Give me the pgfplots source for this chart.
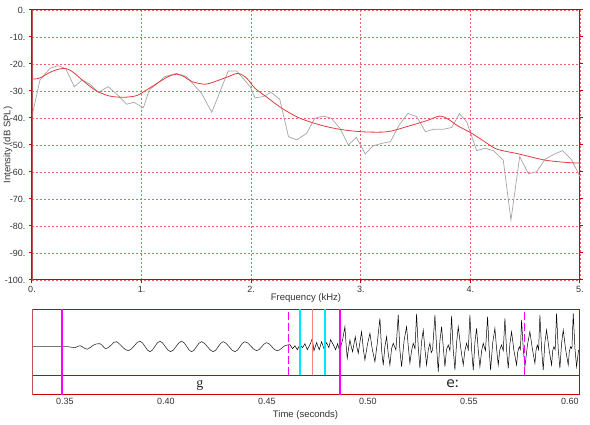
\documentclass[border=0pt]{standalone}
\usepackage{fontspec}
\setmainfont{Liberation Sans}
\newfontfamily\serifg{Liberation Serif}
\newfontfamily\dejavu{DejaVu Sans}
\usepackage{pgfplots}
\pgfplotsset{compat=1.18}
\definecolor{framered}{RGB}{204,0,0}
\definecolor{leftred}{RGB}{196,80,80}
\definecolor{gridred}{RGB}{238,100,100}
\definecolor{specgray}{RGB}{165,165,165}
\definecolor{smoothred}{RGB}{225,60,60}
\definecolor{mag}{RGB}{255,0,255}
\definecolor{cyn}{RGB}{0,230,255}
\definecolor{salmon}{RGB}{255,130,120}
\begin{document}
\begin{tikzpicture}[x=1pt,y=1pt]
\useasboundingbox (0,0) rectangle (590,425);
\begin{axis}[
  at={(32pt,145pt)}, anchor=south west,
  scale only axis, width=548pt, height=270pt,
  xmin=0, xmax=5, ymin=-100, ymax=0,
  xtick={0,1,2,3,4,5}, xticklabels={0.,1.,2.,3.,4.,5.},
  ytick={-100,-90,-80,-70,-60,-50,-40,-30,-20,-10,0},
  yticklabels={-100.,-90.,-80.,-70.,-60.,-50.,-40.,-30.,-20.,-10.,0.},
  grid=major,
  major grid style={gridred, dash pattern=on 2pt off 2pt, line width=0.7pt},
  axis line style={framered, line width=1pt},
  tick style={framered, line width=1pt},
  tick align=outside, major tick length=3pt,
  xtick pos=left, ytick pos=both, yticklabel pos=left,
  ticklabel style={font=\fontsize{9}{10}\selectfont, text=black!80},
  xlabel={Frequency (kHz)},
  xlabel style={at={(axis description cs:0.5,-0.0667)}, anchor=center, font=\fontsize{9.5}{10}\selectfont, text=black!80},
  ylabel={Intensity (dB SPL)},
  ylabel style={at={(axis description cs:-0.0438,0.5)}, anchor=center, font=\fontsize{9.5}{10}\selectfont, text=black!80},
]
\addplot[specgray, line width=0.7pt] coordinates {
(0.0,-39.3) (0.073,-25.9) (0.164,-21.6) (0.24,-20.6) (0.31,-21.9) (0.386,-28.4)
(0.459,-25.9) (0.529,-27.5) (0.605,-30.5) (0.696,-28.4) (0.787,-31.7) (0.864,-34.9)
(0.93,-34.2) (1.016,-36.2) (1.07,-29.6) (1.15,-27.0) (1.21,-24.7) (1.32,-23.5)
(1.41,-24.7) (1.548,-30.9) (1.64,-37.9) (1.79,-22.6) (1.868,-22.6) (1.99,-28.4)
(2.035,-32.5) (2.11,-32.1) (2.18,-30.5) (2.26,-33.0) (2.34,-46.9) (2.415,-48.1)
(2.506,-45.7) (2.58,-40.1) (2.66,-39.3) (2.73,-40.1) (2.81,-43.8) (2.886,-50.0)
(2.96,-47.2) (3.04,-53.3) (3.11,-50.4) (3.19,-49.4) (3.27,-48.8) (3.35,-42.6)
(3.43,-38.3) (3.51,-39.5) (3.59,-45.1) (3.66,-44.2) (3.75,-44.2) (3.83,-43.5)
(3.90,-38.4) (3.966,-41.4) (4.057,-52.1) (4.133,-51.2) (4.21,-52.1) (4.30,-55.6)
(4.37,-77.8) (4.45,-54.3) (4.53,-60.7) (4.605,-59.9) (4.68,-55.3) (4.76,-53.5)
(4.84,-52.1) (4.92,-55.3) (5.0,-61.7)
};
\addplot[smoothred, line width=0.8pt, smooth, tension=0.5] coordinates {
(0,-25.6) (0.07,-25.2) (0.18,-22.8) (0.29,-21.6) (0.36,-22.6) (0.44,-25.3)
(0.52,-28.0) (0.59,-30.0) (0.67,-31.4) (0.74,-32.1) (0.85,-32.3) (0.955,-31.7)
(1.046,-29.6) (1.14,-27.2) (1.24,-24.7) (1.32,-23.8) (1.39,-24.7) (1.457,-26.5)
(1.58,-27.5) (1.67,-26.5) (1.79,-24.7) (1.88,-23.5) (1.96,-25.3) (2.035,-29.0)
(2.156,-32.7) (2.28,-36.4) (2.44,-40.0) (2.63,-42.6) (2.81,-44.2) (3.01,-45.1)
(3.24,-45.1) (3.42,-43.2) (3.60,-41.0) (3.72,-39.3) (3.80,-40.5) (3.88,-42.8)
(4.0,-45.4) (4.12,-48.5) (4.24,-51.5) (4.44,-53.3) (4.68,-55.6) (4.89,-56.5)
(5.0,-56.7)
};
\draw[leftred, line width=2.5pt] (axis cs:0,-100.5) -- (axis cs:0,0);
\end{axis}

\begin{axis}[
  at={(32pt,30pt)}, anchor=south west,
  scale only axis, width=547pt, height=85.5pt,
  xmin=0.3337, xmax=0.6045, ymin=-48.3, ymax=37.2,
  xtick={0.35,0.40,0.45,0.50,0.55,0.60},
  xticklabels={0.35,0.40,0.45,0.50,0.55,0.60},
  ytick=\empty,
  axis line style={framered, line width=1pt},
  major tick length=0pt,
  ticklabel style={font=\fontsize{9}{10}\selectfont, text=black!80},
  xlabel={Time (seconds)},
  xlabel style={at={(axis description cs:0.5,-0.234)}, anchor=center, font=\fontsize{9.5}{10}\selectfont, text=black!80},
]
\addplot[black!80, line width=0.6pt, smooth, tension=0.6] coordinates {
(0.3337,0) (0.3485,0) (0.35165,0) (0.35495,-1) (0.35743,1) (0.36106,-2.5)
(0.36403,1.5) (0.36733,3) (0.3703,-2) (0.3731,2) (0.37558,5) (0.38135,-4)
(0.38713,5.5) (0.39208,-5) (0.39703,5.5) (0.40231,-5) (0.40775,5.5) (0.4127,-5)
(0.41765,5) (0.42343,-5) (0.42838,5) (0.43415,-5) (0.4391,5) (0.44488,-4)
(0.44983,4) (0.45478,-4) (0.4589,1) (0.46139,2)
};
\addplot[black, line width=0.5pt] coordinates {
(0.46139,2)
(0.46271,-2) (0.46387,1) (0.46502,-3) (0.46634,2) (0.46766,-1) (0.46882,3)
(0.46997,-3) (0.47129,2) (0.47245,8) (0.47327,-4) (0.47459,4) (0.47591,-3)
(0.47707,5) (0.47822,-2) (0.47954,4) (0.4807,-1) (0.48152,7) (0.48284,2)
(0.484,-3) (0.48499,3) (0.48614,-5)
(0.48680,2) (0.48746,6.7) (0.48861,20) (0.48920,2) (0.48977,-11.6) (0.49040,-2)
(0.49109,6.7) (0.49175,0) (0.49241,-5) (0.49373,10) (0.49450,0) (0.49521,-6.6)
(0.49600,4) (0.49686,15) (0.49770,-2) (0.49851,-13.3) (0.49975,2) (0.50099,13.4)
(0.50220,-3) (0.50347,-15) (0.50462,3.4) (0.50594,28.4) (0.50680,-4) (0.50759,-18.3)
(0.50840,0) (0.50924,10) (0.51000,-6) (0.51089,-18.3) (0.51170,-2) (0.51254,3.4)
(0.51386,-3.3) (0.51502,31.7) (0.51580,-3) (0.51667,-20) (0.51790,6) (0.51914,20)
(0.52000,0) (0.52079,-16.6) (0.52160,-4) (0.52244,3.4) (0.52330,-2) (0.52409,32.7)
(0.52490,0) (0.52574,-21.6) (0.52650,4) (0.52739,16.7) (0.52820,-2) (0.52904,-18.3)
(0.52990,-3) (0.53069,3.4) (0.53135,-6) (0.53201,-3.3) (0.53317,31.7) (0.53400,0)
(0.53482,-25) (0.53560,5) (0.53647,20) (0.53730,0) (0.53812,-20) (0.53890,-3)
(0.53977,1.7) (0.54060,-4) (0.54142,30.7) (0.54220,-2) (0.54307,-23.3) (0.54390,4)
(0.54472,20) (0.54600,-2) (0.54719,-18.3) (0.54800,-4) (0.54884,3.4) (0.54970,-3)
(0.55049,31.7) (0.55130,-2) (0.55214,-23.3) (0.55300,5) (0.55379,18.4) (0.55460,-3)
(0.55544,-20) (0.55630,-4) (0.55709,3.4) (0.55820,-4) (0.55924,30) (0.56000,-2)
(0.56072,-23.3) (0.56180,4) (0.56287,18.4) (0.56370,-2) (0.56452,-18.3) (0.56530,-3)
(0.56617,1.7) (0.56700,-4) (0.56782,28.4) (0.56860,-2) (0.56947,-21.6) (0.57030,3)
(0.57112,15) (0.57230,-4) (0.57359,-18.3) (0.57420,-5) (0.57491,0) (0.57550,-3)
(0.57607,26.7) (0.57690,-2) (0.57772,-20) (0.57900,2) (0.58019,15) (0.58140,-2)
(0.58267,-16.6) (0.58320,-4) (0.58382,1.7) (0.58450,-3) (0.58514,31.7) (0.58600,-3)
(0.58679,-23.3) (0.58760,4) (0.58844,16.7) (0.58970,-3) (0.59092,-18.3) (0.59150,-4)
(0.59207,0) (0.59270,-3) (0.59339,33.4) (0.59420,-2) (0.59504,-21.6) (0.59590,4)
(0.59669,16.7) (0.59790,-3) (0.59917,-18.3) (0.59970,-5) (0.60032,0) (0.60100,-2)
(0.60164,33.4) (0.60250,-2) (0.60329,-20) (0.60428,-3.3)
};
\addplot[framered, line width=1pt] coordinates {(0.3337,-28.6) (0.6045,-28.6)};
\addplot[mag, line width=1.5pt] coordinates {(0.34852,-48.3) (0.34852,37.2)};
\addplot[mag, line width=1.5pt] coordinates {(0.48614,-48.3) (0.48614,37.2)};
\addplot[mag, line width=1.5pt, dash pattern=on 8pt off 3pt] coordinates {(0.46072,-28.6) (0.46072,37.2)};
\addplot[mag, line width=1.5pt, dash pattern=on 8pt off 3pt] coordinates {(0.57755,-28.6) (0.57755,37.2)};
\addplot[cyn, line width=1.8pt] coordinates {(0.46634,-28.6) (0.46634,37.2)};
\addplot[cyn, line width=1.8pt] coordinates {(0.47872,-28.6) (0.47872,37.2)};
\addplot[salmon, line width=0.8pt] coordinates {(0.47245,-28.6) (0.47245,37.2)};
\node[font=\serifg\fontsize{14}{14}\selectfont, text=black!85] at (axis cs:0.4168,-38.5) {g};
\node[font=\dejavu\fontsize{14}{14}\selectfont, text=black!85] at (axis cs:0.5421,-37.0) {eː};
\draw[leftred, line width=2.5pt] (axis cs:0.3337,-48.8) -- (axis cs:0.3337,37.2);
\end{axis}
\end{tikzpicture}
\end{document}
